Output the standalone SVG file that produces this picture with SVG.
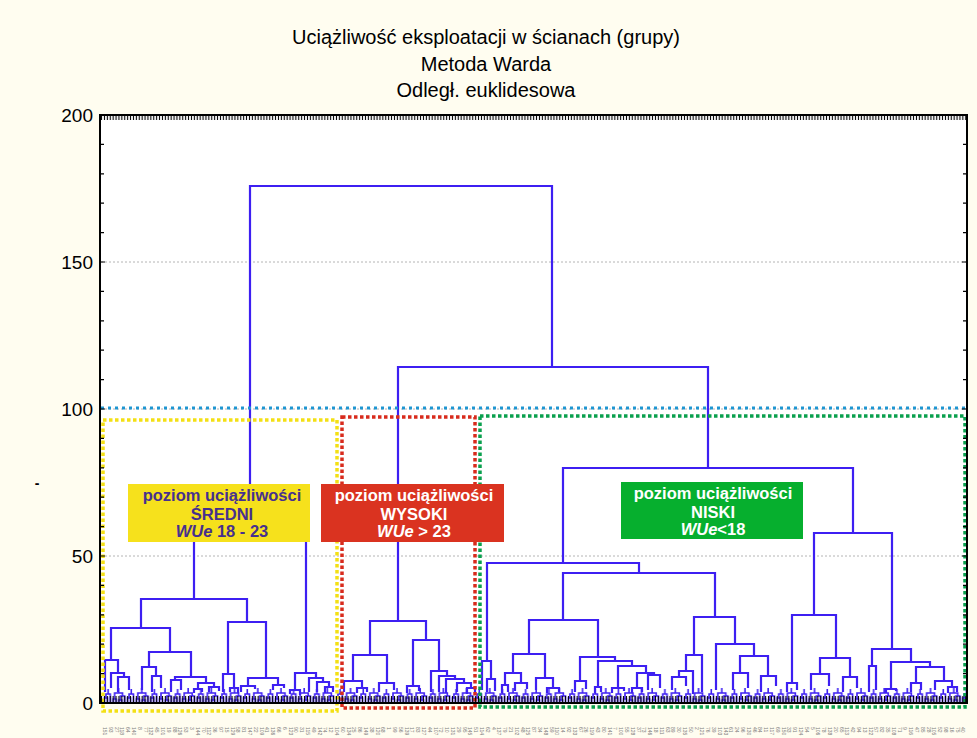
<svg xmlns="http://www.w3.org/2000/svg" width="977" height="738" viewBox="0 0 977 738">
  <defs>
    <style>
      .title { font-family: "Liberation Sans", Arial, sans-serif; font-size: 20px; fill: #000; text-anchor: middle; }
      .axis { font-family: "Liberation Sans", Arial, sans-serif; font-size: 19px; fill: #000; text-anchor: end; }
      .grid { stroke: #b4b4b4; stroke-width: 1; stroke-dasharray: 2 2; fill: none; }
      .tick { stroke: #000; stroke-width: 1.2; }
      .link { fill: none; stroke: #3d1ff2; stroke-width: 2.2; stroke-linejoin: miter; }
      .box { font-family: "Liberation Sans", Arial, sans-serif; font-size: 16.5px; font-weight: bold; text-anchor: middle; }
      .leaf { font-family: "Liberation Sans", Arial, sans-serif; font-size: 5px; fill: #7c7c7c; }
      .zone { fill: none; stroke-width: 3.5; stroke-dasharray: 3.5 2.5; }
    </style>
    <!-- fine leaf-level merges, repeated along the base of the tree -->
    <pattern id="twigs" patternUnits="userSpaceOnUse" x="103" y="686" width="23.2" height="17">
      <g fill="none" stroke="#3d1ff2" stroke-width="1.6">
        <path d="M1.45 17 V12 H4.35 V17"/>
        <path d="M2.9 12 V8 H7.25 V17"/>
        <path d="M5.1 8 V3"/>
        <path d="M10.15 17 V13 H13.05 V17"/>
        <path d="M15.95 17 V14 H18.85 V17"/>
        <path d="M17.4 14 V10 H21.75 V17"/>
        <path d="M11.6 13 V7 H19.6 V10"/>
        <path d="M15.6 7 V2"/>
      </g>
    </pattern>
    <pattern id="leafticks" patternUnits="userSpaceOnUse" x="103" y="0" width="2.9" height="738">
      <line x1="1.45" y1="0" x2="1.45" y2="738" stroke="#000" stroke-width="1.1"/>
    </pattern>
  </defs>

  <!-- page and plot area -->
  <rect x="0" y="0" width="977" height="738" fill="#fffdf0"/>
  <rect x="100" y="115" width="867" height="588" fill="#fff"/>

  <g id="title">
    <text class="title" x="486" y="44">Uciążliwość eksploatacji w ścianach (grupy)</text>
    <text class="title" x="486" y="71">Metoda Warda</text>
    <text class="title" x="486" y="97">Odległ. euklidesowa</text>
  </g>

  <!-- horizontal grid -->
  <g id="grid">
    <line class="grid" x1="101" y1="262" x2="966" y2="262"/>
    <line class="grid" x1="101" y1="409" x2="966" y2="409"/>
    <line class="grid" x1="101" y1="556" x2="966" y2="556"/>
  </g>

  <!-- dendrogram links -->
  <g id="links" class="link">
    <rect x="103" y="686" width="863" height="17" fill="url(#twigs)" stroke="none"/>
    <path d="M250 515 V186 H552 V367"/>
    <!-- medium group -->
    <path d="M194 599 V515 H306 V673"/>
    <path d="M141 628 V599 H247 V622"/>
    <path d="M111 660 V628 H170 V652"/>
    <path d="M105 692 V660 H118 V673"/>
    <path d="M111 688 V673 H124 V677"/>
    <path d="M118 692 V677 H129 V690"/>
    <path d="M149 667 V652 H191 V677"/>
    <path d="M142 690 V667 H156 V676"/>
    <path d="M152 692 V676 H161 V688"/>
    <path d="M175 680 V677 H206 V683"/>
    <path d="M171 692 V680 H181 V690"/>
    <path d="M198 689 V683 H214 V687"/>
    <path d="M194 693 V689 H202 V692"/>
    <path d="M209 692 V687 H219 V691"/>
    <path d="M228 674 V622 H266 V678"/>
    <path d="M223 692 V674 H234 V688"/>
    <path d="M230 692 V688 H238 V693"/>
    <path d="M248 686 V678 H278 V685"/>
    <path d="M241 692 V686 H255 V689"/>
    <path d="M273 690 V685 H284 V688"/>
    <path d="M295 690 V673 H316 V678"/>
    <path d="M290 694 V690 H300 V695"/>
    <path d="M309 692 V678 H323 V682"/>
    <path d="M317 692 V682 H329 V687"/>
    <path d="M325 693 V687 H333 V692"/>
    <!-- high group -->
    <path d="M398 621 V367 H708 V468"/>
    <path d="M370 655 V621 H426 V640"/>
    <path d="M353 681 V655 H387 V683"/>
    <path d="M344 692 V681 H362 V688"/>
    <path d="M357 693 V688 H367 V692"/>
    <path d="M379 692 V683 H394 V690"/>
    <path d="M413 686 V640 H439 V671"/>
    <path d="M407 693 V686 H419 V691"/>
    <path d="M431 692 V671 H447 V676"/>
    <path d="M439 692 V676 H455 V679"/>
    <path d="M446 693 V679 H464 V683"/>
    <path d="M457 692 V683 H471 V688"/>
    <path d="M467 694 V688 H475 V693"/>
    <!-- low group -->
    <path d="M563 563 V468 H853 V533"/>
    <path d="M487 661 V563 H639 V573"/>
    <path d="M482 690 V661 H491 V679"/>
    <path d="M487 692 V679 H495 V691"/>
    <path d="M563 620 V573 H715 V617"/>
    <path d="M529 654 V620 H598 V657"/>
    <path d="M513 673 V654 H545 V678"/>
    <path d="M505 685 V673 H521 V683"/>
    <path d="M502 693 V685 H508 V692"/>
    <path d="M515 691 V683 H527 V689"/>
    <path d="M536 690 V678 H553 V688"/>
    <path d="M547 693 V688 H559 V692"/>
    <path d="M580 681 V657 H615 V661"/>
    <path d="M575 692 V681 H586 V689"/>
    <path d="M598 687 V661 H632 V666"/>
    <path d="M595 693 V687 H601 V692"/>
    <path d="M618 688 V666 H646 V673"/>
    <path d="M612 693 V688 H624 V691"/>
    <path d="M637 688 V673 H654 V675"/>
    <path d="M632 693 V688 H642 V692"/>
    <path d="M648 690 V675 H660 V688"/>
    <path d="M694 655 V617 H735 V644"/>
    <path d="M686 671 V655 H702 V692"/>
    <path d="M679 677 V671 H693 V694"/>
    <path d="M672 690 V677 H686 V686"/>
    <path d="M716 690 V644 H754 V656"/>
    <path d="M740 673 V656 H768 V676"/>
    <path d="M733 690 V673 H748 V688"/>
    <path d="M761 692 V676 H776 V686"/>
    <path d="M814 615 V533 H892 V649"/>
    <path d="M792 683 V615 H836 V658"/>
    <path d="M787 692 V683 H797 V690"/>
    <path d="M820 674 V658 H850 V677"/>
    <path d="M811 690 V674 H829 V686"/>
    <path d="M843 692 V677 H857 V688"/>
    <path d="M872 666 V649 H911 V662"/>
    <path d="M869 692 V666 H876 V690"/>
    <path d="M891 689 V662 H930 V667"/>
    <path d="M886 693 V689 H896 V691"/>
    <path d="M916 683 V667 H944 V681"/>
    <path d="M911 692 V683 H921 V690"/>
    <path d="M935 690 V681 H952 V687"/>
    <path d="M948 693 V687 H957 V692"/>
  </g>

  <!-- cut level and group zones -->
  <line x1="101" y1="408" x2="966" y2="408" stroke="#1e96d2" stroke-width="3" stroke-dasharray="3 4"/>
  <g id="zone-sredni"><rect class="zone" x="103" y="420" width="234" height="291" stroke="#f3e014"/></g>
  <g id="zone-wysoki"><rect class="zone" x="342" y="417" width="133" height="291" stroke="#d82b1d"/></g>
  <g id="zone-niski"><rect class="zone" x="480" y="416" width="485" height="291" stroke="#0aa04e"/></g>

  <!-- group captions -->
  <g id="label-sredni" class="box" fill="#46308e">
    <rect x="128" y="484" width="182" height="58" fill="#f6e11c"/>
    <text x="222" y="501">poziom uciążliwości</text>
    <text x="222" y="520">ŚREDNI</text>
    <text x="222" y="537"><tspan font-style="italic">WUe</tspan> 18 - 23</text>
  </g>
  <g id="label-wysoki" class="box" fill="#fff">
    <rect x="321" y="484" width="183" height="58" fill="#da3320"/>
    <text x="414" y="501">poziom uciążliwości</text>
    <text x="414" y="520">WYSOKI</text>
    <text x="414" y="537"><tspan font-style="italic">WUe</tspan> &gt; 23</text>
  </g>
  <g id="label-niski" class="box" fill="#fff">
    <rect x="621" y="482" width="182" height="57" fill="#06af2e"/>
    <text x="713" y="499">poziom uciążliwości</text>
    <text x="713" y="518">NISKI</text>
    <text x="713" y="535"><tspan font-style="italic">WUe</tspan>&lt;18</text>
  </g>

  <!-- axes -->
  <g id="axes">
    <rect x="100" y="115" width="867" height="588" fill="none" stroke="#000" stroke-width="2"/>
    <rect x="101" y="116" width="865" height="4" fill="url(#leafticks)"/>
    <rect x="101" y="696" width="865" height="7" fill="url(#leafticks)"/>
    <path class="tick" d="M100 673.6 h4 M100 644.2 h4 M100 614.8 h4 M100 585.4 h4 M100 556 h5 M100 526.6 h4 M100 497.2 h4 M100 467.8 h4 M100 438.4 h4 M100 409 h5 M100 379.6 h4 M100 350.2 h4 M100 320.8 h4 M100 291.4 h4 M100 262 h5 M100 232.6 h4 M100 203.2 h4 M100 173.8 h4 M100 144.4 h4"/>
    <path class="tick" d="M967 673.6 h-4 M967 644.2 h-4 M967 614.8 h-4 M967 585.4 h-4 M967 556 h-5 M967 526.6 h-4 M967 497.2 h-4 M967 467.8 h-4 M967 438.4 h-4 M967 409 h-5 M967 379.6 h-4 M967 350.2 h-4 M967 320.8 h-4 M967 291.4 h-4 M967 262 h-5 M967 232.6 h-4 M967 203.2 h-4 M967 173.8 h-4 M967 144.4 h-4"/>
    <text class="axis" x="93" y="122">200</text>
    <text class="axis" x="93" y="269">150</text>
    <text class="axis" x="93" y="416">100</text>
    <text class="axis" x="93" y="563">50</text>
    <text class="axis" x="93" y="710">0</text>
    <text x="37" y="488" font-family="Liberation Sans, Arial, sans-serif" font-size="14" font-weight="bold" text-anchor="middle">-</text>
  </g>

  <!-- case labels under the leaves -->
  <text class="leaf" transform="rotate(90)">
    <tspan x="727" y="-103">151</tspan><tspan x="727" y="-108.8">93</tspan><tspan x="727" y="-114.6">27</tspan><tspan x="727" y="-120.4">118</tspan><tspan x="727" y="-126.2">64</tspan>
    <tspan x="727" y="-132">140</tspan><tspan x="727" y="-137.8">8</tspan><tspan x="727" y="-143.6">77</tspan><tspan x="727" y="-149.4">132</tspan><tspan x="727" y="-155.2">45</tspan>
    <tspan x="727" y="-161">101</tspan><tspan x="727" y="-166.8">19</tspan><tspan x="727" y="-172.6">88</tspan><tspan x="727" y="-178.4">126</tspan><tspan x="727" y="-184.2">53</tspan>
    <tspan x="727" y="-190">3</tspan><tspan x="727" y="-195.8">144</tspan><tspan x="727" y="-201.6">70</tspan><tspan x="727" y="-207.4">112</tspan><tspan x="727" y="-213.2">36</tspan>
    <tspan x="727" y="-219">97</tspan><tspan x="727" y="-224.8">15</tspan><tspan x="727" y="-230.6">129</tspan><tspan x="727" y="-236.4">58</tspan><tspan x="727" y="-242.2">81</tspan>
    <tspan x="727" y="-248">147</tspan><tspan x="727" y="-253.8">22</tspan><tspan x="727" y="-259.6">109</tspan><tspan x="727" y="-265.4">41</tspan><tspan x="727" y="-271.2">136</tspan>
    <tspan x="727" y="-277">66</tspan><tspan x="727" y="-282.8">6</tspan><tspan x="727" y="-288.6">123</tspan><tspan x="727" y="-294.4">90</tspan><tspan x="727" y="-300.2">31</tspan>
    <tspan x="727" y="-306">115</tspan><tspan x="727" y="-311.8">49</tspan><tspan x="727" y="-317.6">142</tspan><tspan x="727" y="-323.4">74</tspan><tspan x="727" y="-329.2">12</tspan>
    <tspan x="727" y="-335">104</tspan><tspan x="727" y="-340.8">60</tspan><tspan x="727" y="-346.6">134</tspan><tspan x="727" y="-352.4">25</tspan><tspan x="727" y="-358.2">86</tspan>
    <tspan x="727" y="-364">149</tspan><tspan x="727" y="-369.8">38</tspan><tspan x="727" y="-375.6">120</tspan><tspan x="727" y="-381.4">68</tspan><tspan x="727" y="-387.2">1</tspan>
    <tspan x="727" y="-393">99</tspan><tspan x="727" y="-398.8">56</tspan><tspan x="727" y="-404.6">139</tspan><tspan x="727" y="-410.4">17</tspan><tspan x="727" y="-416.2">83</tspan>
    <tspan x="727" y="-422">127</tspan><tspan x="727" y="-427.8">44</tspan><tspan x="727" y="-433.6">107</tspan><tspan x="727" y="-439.4">72</tspan><tspan x="727" y="-445.2">10</tspan>
    <tspan x="727" y="-451">131</tspan><tspan x="727" y="-456.8">29</tspan><tspan x="727" y="-462.6">95</tspan><tspan x="727" y="-468.4">145</tspan><tspan x="727" y="-474.2">51</tspan>
    <tspan x="727" y="-480">114</tspan><tspan x="727" y="-485.8">62</tspan><tspan x="727" y="-491.6">4</tspan><tspan x="727" y="-497.4">137</tspan><tspan x="727" y="-503.2">79</tspan>
    <tspan x="727" y="-509">21</tspan><tspan x="727" y="-514.8">102</tspan><tspan x="727" y="-520.6">48</tspan><tspan x="727" y="-526.4">125</tspan><tspan x="727" y="-532.2">87</tspan>
    <tspan x="727" y="-538">34</tspan><tspan x="727" y="-543.8">148</tspan><tspan x="727" y="-549.6">59</tspan><tspan x="727" y="-555.4">110</tspan><tspan x="727" y="-561.2">14</tspan>
    <tspan x="727" y="-567">92</tspan><tspan x="727" y="-572.8">133</tspan><tspan x="727" y="-578.6">67</tspan><tspan x="727" y="-584.4">26</tspan><tspan x="727" y="-590.2">119</tspan>
    <tspan x="727" y="-596">43</tspan><tspan x="727" y="-601.8">80</tspan><tspan x="727" y="-607.6">141</tspan><tspan x="727" y="-613.4">7</tspan><tspan x="727" y="-619.2">100</tspan>
    <tspan x="727" y="-625">55</tspan><tspan x="727" y="-630.8">128</tspan><tspan x="727" y="-636.6">37</tspan><tspan x="727" y="-642.4">73</tspan><tspan x="727" y="-648.2">146</tspan>
    <tspan x="727" y="-654">18</tspan><tspan x="727" y="-659.8">111</tspan><tspan x="727" y="-665.6">63</tspan><tspan x="727" y="-671.4">89</tspan><tspan x="727" y="-677.2">30</tspan>
    <tspan x="727" y="-683">135</tspan><tspan x="727" y="-688.8">50</tspan><tspan x="727" y="-694.6">2</tspan><tspan x="727" y="-700.4">121</tspan><tspan x="727" y="-706.2">76</tspan>
    <tspan x="727" y="-712">39</tspan><tspan x="727" y="-717.8">103</tspan><tspan x="727" y="-723.6">143</tspan><tspan x="727" y="-729.4">61</tspan><tspan x="727" y="-735.2">24</tspan>
    <tspan x="727" y="-741">96</tspan><tspan x="727" y="-746.8">130</tspan><tspan x="727" y="-752.6">46</tspan><tspan x="727" y="-758.4">84</tspan><tspan x="727" y="-764.2">11</tspan>
    <tspan x="727" y="-770">117</tspan><tspan x="727" y="-775.8">69</tspan><tspan x="727" y="-781.6">150</tspan><tspan x="727" y="-787.4">33</tspan><tspan x="727" y="-793.2">91</tspan>
    <tspan x="727" y="-799">124</tspan><tspan x="727" y="-804.8">54</tspan><tspan x="727" y="-810.6">5</tspan><tspan x="727" y="-816.4">106</tspan><tspan x="727" y="-822.2">78</tspan>
    <tspan x="727" y="-828">138</tspan><tspan x="727" y="-833.8">20</tspan><tspan x="727" y="-839.6">65</tspan><tspan x="727" y="-845.4">113</tspan><tspan x="727" y="-851.2">42</tspan>
    <tspan x="727" y="-857">94</tspan><tspan x="727" y="-862.8">13</tspan><tspan x="727" y="-868.6">122</tspan><tspan x="727" y="-874.4">57</tspan><tspan x="727" y="-880.2">82</tspan>
    <tspan x="727" y="-886">35</tspan><tspan x="727" y="-891.8">108</tspan><tspan x="727" y="-897.6">71</tspan><tspan x="727" y="-903.4">9</tspan><tspan x="727" y="-909.2">116</tspan>
    <tspan x="727" y="-915">47</tspan><tspan x="727" y="-920.8">85</tspan><tspan x="727" y="-926.6">28</tspan><tspan x="727" y="-932.4">105</tspan><tspan x="727" y="-938.2">52</tspan>
    <tspan x="727" y="-944">98</tspan><tspan x="727" y="-949.8">16</tspan><tspan x="727" y="-955.6">75</tspan><tspan x="727" y="-961.4">40</tspan>
  </text>
</svg>
